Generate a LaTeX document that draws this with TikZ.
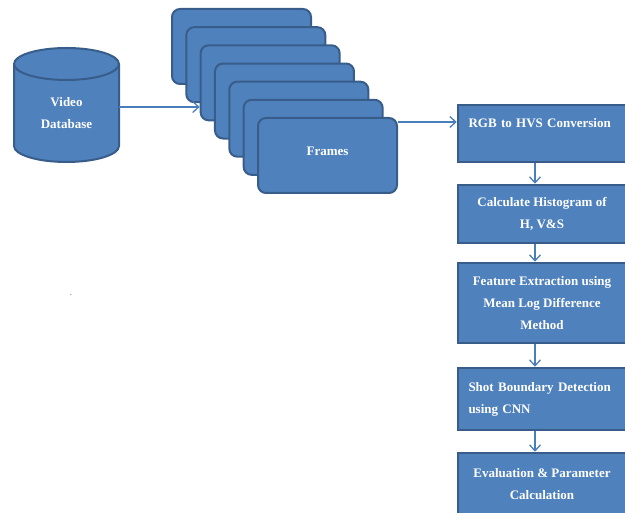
\documentclass[tikz,border=0pt]{standalone}
\usepackage{fontspec}
\setmainfont{Liberation Serif}
\usetikzlibrary{arrows.meta}
\definecolor{boxfill}{HTML}{4F81BD}
\definecolor{boxline}{HTML}{385D8A}
\definecolor{arrline}{HTML}{4A7EBB}
\begin{document}
\begin{tikzpicture}[x=1pt,y=1pt,
  frame/.style={draw=boxline,fill=boxfill,line width=2pt,rounded corners=8pt,minimum width=139pt,minimum height=75pt},
  stepbox/.style={draw=boxline,fill=boxfill,line width=2.5pt,minimum width=168pt,text=white,font=\bfseries\fontsize{13}{22}\selectfont,align=center},
  arr/.style={draw=arrline,line width=1.3pt,-{Straight Barb[length=6pt,width=11pt]}}]
\useasboundingbox (0,0) rectangle (625,513);

\draw[draw=boxline,fill=boxfill,line width=2pt] (14,449) -- (14,367) arc[start angle=180,end angle=360,x radius=52.5,y radius=16] -- (119,449) arc[start angle=0,end angle=180,x radius=52.5,y radius=16] -- cycle;
\draw[draw=boxline,line width=2pt] (14,449) arc[start angle=180,end angle=360,x radius=52.5,y radius=16];
\node[text=white,font=\bfseries\fontsize{13}{22}\selectfont,align=center,minimum width=105pt] (db) at (66.5,400) {Video\\Database};

\foreach \i in {0,...,5}
  \node[frame] (f\i) at (241.5+14.33*\i,466.5-18.17*\i) {};
\node[frame,text=white,font=\bfseries\fontsize{13}{22}\selectfont] (f6) at (327.5,357.5) {\raisebox{8pt}{Frames}};

\node[stepbox,minimum height=57pt,align=left,text width=147pt] (rgb) at (542,379.5) {RGB to HVS Conversion\\\mbox{}};
\node[stepbox,minimum height=58pt] (hist) at (542,299) {Calculate Histogram of\\H, V\&S};
\node[stepbox,minimum height=80pt] (feat) at (542,210) {Feature Extraction using\\Mean Log Difference\\Method};
\node[stepbox,minimum height=62pt,align=left,text width=147pt] (shot) at (542,114) {Shot Boundary Detection\\using CNN};
\node[stepbox,minimum height=63pt] (eval) at (542,28.5) {Evaluation \& Parameter\\Calculation};

\node[text=black!60,font=\small,inner sep=0pt] (dot) at (71,218) {.};

\draw[arr] ([yshift=6pt]db.east) -- ([yshift=6pt]db.east -| f2.west);
\draw[arr] ([yshift=-5pt]f6.north east) -- ([yshift=-5pt]f6.north east -| rgb.west);
\draw[arr] ([xshift=-7pt]rgb.south) -- ([xshift=-7pt]hist.north);
\draw[arr] ([xshift=-7pt]hist.south) -- ([xshift=-7pt]feat.north);
\draw[arr] ([xshift=-7pt]feat.south) -- ([xshift=-7pt]shot.north);
\draw[arr] ([xshift=-7pt]shot.south) -- ([xshift=-7pt]eval.north);
\end{tikzpicture}
\end{document}
